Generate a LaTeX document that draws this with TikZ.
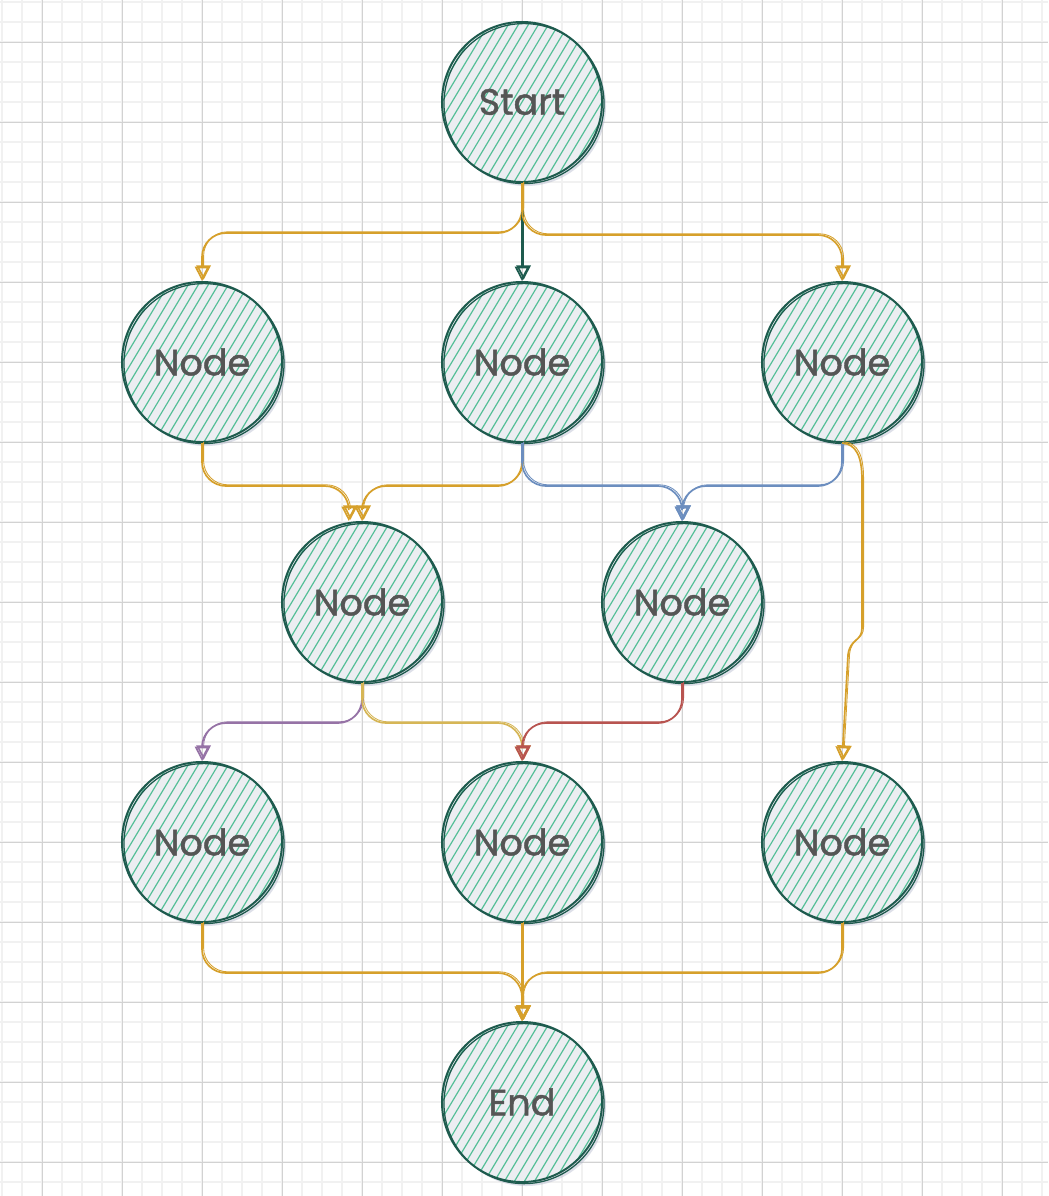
\documentclass[tikz,border=0pt]{standalone}
\usepackage{fontspec}
\setmainfont{Poppins}[FakeBold=1.2]
\usepackage{tikz}
\usetikzlibrary{arrows.meta, shadows, positioning}

\definecolor{minorgrid}{HTML}{F1F1F1}
\definecolor{majorgrid}{HTML}{D2D2D2}
\definecolor{nodeline}{HTML}{1E5B4E}
\definecolor{nodefill}{HTML}{ECEEF2}
\definecolor{hatchgreen}{HTML}{55BF98}
\definecolor{labelgray}{HTML}{555555}
\definecolor{goldline}{HTML}{D6A02B}
\definecolor{blueline}{HTML}{6C8EBF}
\definecolor{purpleline}{HTML}{9673A6}
\definecolor{yellowline}{HTML}{D6B656}
\definecolor{redline}{HTML}{B85450}
\definecolor{shadowblue}{HTML}{9EA6BF}

\tikzset{
    sketchnode/.style={circle, minimum size=4cm, inner sep=0pt, draw=nodeline, line width=1.4pt,
        fill=nodefill, text=labelgray, font=\fontsize{26}{30}\selectfont,
        drop shadow={shadow xshift=0.1cm, shadow yshift=-0.1cm, fill=shadowblue, opacity=.35},
        postaction={draw=nodeline, line width=0.9pt, transform canvas={shift={(0.05cm,-0.04cm)}}},
        path picture={
            \foreach \k in {-19,...,19}{
                \draw[hatchgreen, line width=0.85pt] ([shift={(\k*0.25cm-1.5cm,-2.5cm)}]path picture bounding box.center) -- ++(3cm,5cm);
            }
        }},
    flow/.style={line width=1.2pt, rounded corners=0.6cm, -{Triangle[open, length=0.36cm, width=0.36cm, line width=1.2pt]},
        postaction={draw, line width=0.6pt, transform canvas={shift={(0.04cm,0.03cm)}}}},
}

\begin{document}
\begin{tikzpicture}[x=0.025cm, y=-0.025cm]
    \useasboundingbox (0,0) rectangle (1048,1196);
    \fill[white] (0,0) rectangle (1048,1196);
    % grid
    \foreach \g in {2,22,...,1042}{
        \draw[minorgrid, line width=1.2pt] (\g,0) -- (\g,1196);
    }
    \foreach \g in {2,22,...,1194}{
        \draw[minorgrid, line width=1.2pt] (0,\g) -- (1048,\g);
    }
    \foreach \g in {42,122,...,1042}{
        \draw[majorgrid, line width=0.7pt] (\g,0) -- (\g,1196);
    }
    \foreach \g in {42,122,...,1194}{
        \draw[majorgrid, line width=0.7pt] (0,\g) -- (1048,\g);
    }

    \node[sketchnode] (start) at (522,102) {Start};
    \node[sketchnode] (n1) at (202,362) {Node};
    \node[sketchnode] (n2) at (522,362) {Node};
    \node[sketchnode] (n3) at (842,362) {Node};
    \node[sketchnode] (n4) at (362,602) {Node};
    \node[sketchnode] (n5) at (682,602) {Node};
    \node[sketchnode] (n6) at (202,842) {Node};
    \node[sketchnode] (n7) at (522,842) {Node};
    \node[sketchnode] (n8) at (842,842) {Node};
    \node[sketchnode] (end) at (522,1102) {End};

    \draw[flow, goldline] (start.south) -- ++(0,50) -| (n1.north);
    \draw[flow, nodeline] (start.south) -- (n2.north);
    \draw[flow, goldline] (start.south) -- ++(0,52) -| (n3.north);

    \draw[flow, goldline] (n1.south) -- ++(0,43) -| ([xshift=-0.33cm]n4.north);
    \draw[flow, goldline] (n2.south) -- ++(0,43) -| (n4.north);
    \draw[flow, blueline] (n2.south) -- ++(0,43) -| (n5.north);
    \draw[flow, blueline] (n3.south) -- ++(0,43) -| (n5.north);
    \draw[flow, goldline, sharp corners] (n3.south) .. controls (856,444) and (862,456) .. (862,480) -- (862,628)
        .. controls (862,642) and (850,638) .. (848,655) -- (n8.north);

    \draw[flow, purpleline] (n4.south) -- ++(0,40) -| (n6.north);
    \draw[flow, yellowline] (n4.south) -- ++(0,40) -| (n7.north);
    \draw[flow, redline] (n5.south) -- ++(0,40) -| (n7.north);

    \draw[flow, goldline] (n6.south) -- ++(0,50) -| (end.north);
    \draw[flow, goldline] (n7.south) -- (end.north);
    \draw[flow, goldline] (n8.south) -- ++(0,50) -| (end.north);
\end{tikzpicture}
\end{document}
